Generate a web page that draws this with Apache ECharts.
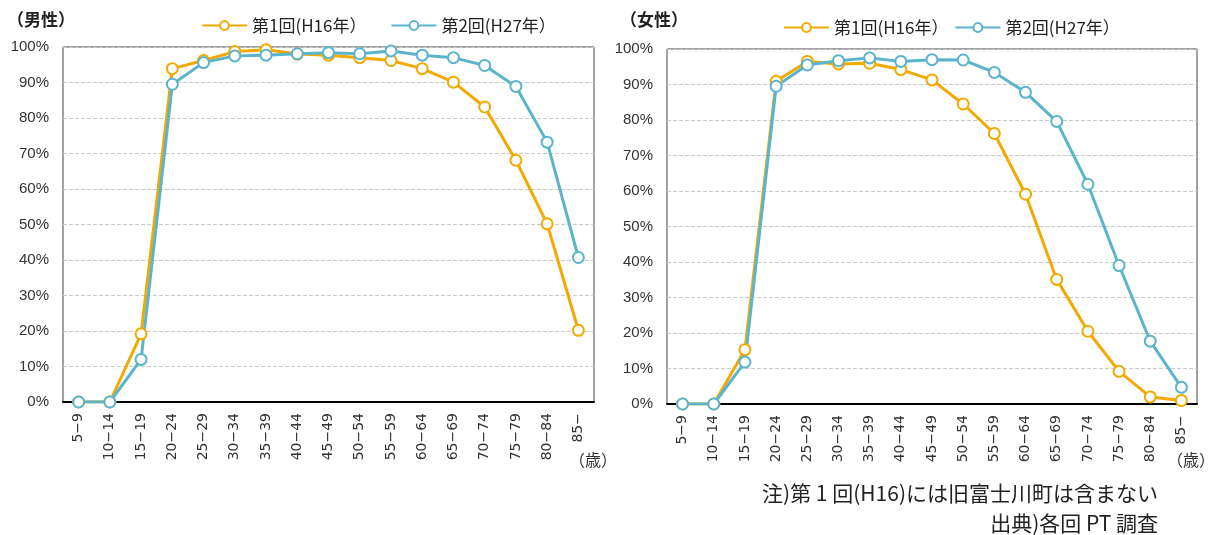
<!DOCTYPE html>
<html>
<head>
<meta charset="utf-8">
<script src="https://cdn.jsdelivr.net/npm/echarts@6/dist/echarts.min.js"></script>
<style>
  html, body { margin: 0; padding: 0; background: #fff; }
  #chart { width: 1214px; height: 535px; }
</style>
</head>
<body>
<div id="chart"></div>
<script>
// age groups
var ages = ["5-9", "10-14", "15-19", "20-24", "25-29", "30-34", "35-39", "40-44",
  "45-49", "50-54", "55-59", "60-64", "65-69", "70-74", "75-79", "80-84", "85-"];

// 男性
var maleH16 = [0, 0, 19.2, 93.9, 96.2, 98.7, 99.2, 98.0, 97.7, 97.0, 96.2, 93.9, 90.1, 83.1, 68.1, 50.2, 20.2];
var maleH27 = [0, 0, 12.0, 89.5, 95.6, 97.5, 97.7, 98.1, 98.4, 98.1, 98.9, 97.7, 97.0, 94.8, 88.9, 73.2, 40.7];

// 女性
var femaleH16 = [0, 0, 15.3, 90.9, 96.5, 95.8, 96.0, 94.2, 91.3, 84.5, 76.2, 59.1, 35.1, 20.5, 9.2, 2.0, 1.0];
var femaleH27 = [0, 0, 11.8, 89.5, 95.5, 96.7, 97.5, 96.5, 97.0, 96.9, 93.4, 87.8, 79.6, 61.9, 39.0, 17.7, 4.7];

var seriesNames = ["第1回(H16年）", "第2回(H27年）"];
var orange = "#f2aa00";
var teal = "#5bb4cb";
var font = "'Noto Sans CJK JP', 'Noto Sans', sans-serif";

function xAxisFor(idx) {
  return {
    type: "category",
    gridIndex: idx,
    data: ages,
    axisLine: { lineStyle: { color: "#000", width: 2 } },
    axisTick: { show: false },
    axisLabel: {
      rotate: 90, interval: 0, fontSize: 14, color: "#333",
      fontFamily: "'DejaVu Sans', sans-serif", margin: 11,
      formatter: function (v) { return v.replace("-", "\u2212"); }
    }
  };
}
function yAxisFor(idx) {
  return {
    type: "value",
    gridIndex: idx,
    min: 0, max: 100, interval: 10,
    axisLine: { show: false },
    axisTick: { show: false },
    axisLabel: { formatter: "{value}%", fontSize: 15, color: "#333", fontFamily: "'Liberation Sans', sans-serif", margin: 14 },
    splitLine: { lineStyle: { color: "#c8c8c8", type: "dashed" } }
  };
}
function line(name, data, color, idx) {
  return {
    name: name,
    type: "line",
    xAxisIndex: idx,
    yAxisIndex: idx,
    data: data,
    symbol: "circle",
    symbolSize: 11,
    itemStyle: { color: "#fff", borderColor: color, borderWidth: 2 },
    lineStyle: { color: color, width: 3 },
    animation: false
  };
}

var legendText = { fontSize: 17, color: "#222", fontFamily: font };

var chart = echarts.init(document.getElementById("chart"));
chart.setOption({
  textStyle: { fontFamily: font },
  title: [
    { text: "（男性）", left: 2, top: 6, textStyle: { fontSize: 17, fontWeight: "bold", color: "#222", fontFamily: font } },
    { text: "（女性）", left: 615, top: 6, textStyle: { fontSize: 17, fontWeight: "bold", color: "#222", fontFamily: font } }
  ],
  legend: [
    {
      data: seriesNames, left: 196, top: 12, itemWidth: 45, itemHeight: 11, itemGap: 24,
      textStyle: legendText
    },
    {
      data: seriesNames, left: 778, top: 14, itemWidth: 45, itemHeight: 11, itemGap: 6,
      textStyle: legendText
    }
  ],
  grid: [
    { left: 63, top: 47, width: 531, height: 355, show: true, borderColor: "#444", borderWidth: 1 },
    { left: 667, top: 49, width: 530, height: 355, show: true, borderColor: "#444", borderWidth: 1 }
  ],
  xAxis: [xAxisFor(0), xAxisFor(1)],
  yAxis: [yAxisFor(0), yAxisFor(1)],
  series: [
    line(seriesNames[0], maleH16, orange, 0),
    line(seriesNames[1], maleH27, teal, 0),
    line(seriesNames[0], femaleH16, orange, 1),
    line(seriesNames[1], femaleH27, teal, 1)
  ],
  graphic: [
    { type: "text", left: 569, top: 452, style: { text: "（歳）", fontSize: 16, fill: "#333", fontFamily: font } },
    { type: "text", left: 1167, top: 452, style: { text: "（歳）", fontSize: 16, fill: "#333", fontFamily: font } },
    { type: "text", right: 56, top: 483, style: { text: "注)第 1 回(H16)には旧富士川町は含まない", fontSize: 21, fill: "#222", fontFamily: font } },
    { type: "text", right: 56, top: 513, style: { text: "出典)各回 PT 調査", fontSize: 21, fill: "#222", fontFamily: font } }
  ]
});
</script>
</body>
</html>
